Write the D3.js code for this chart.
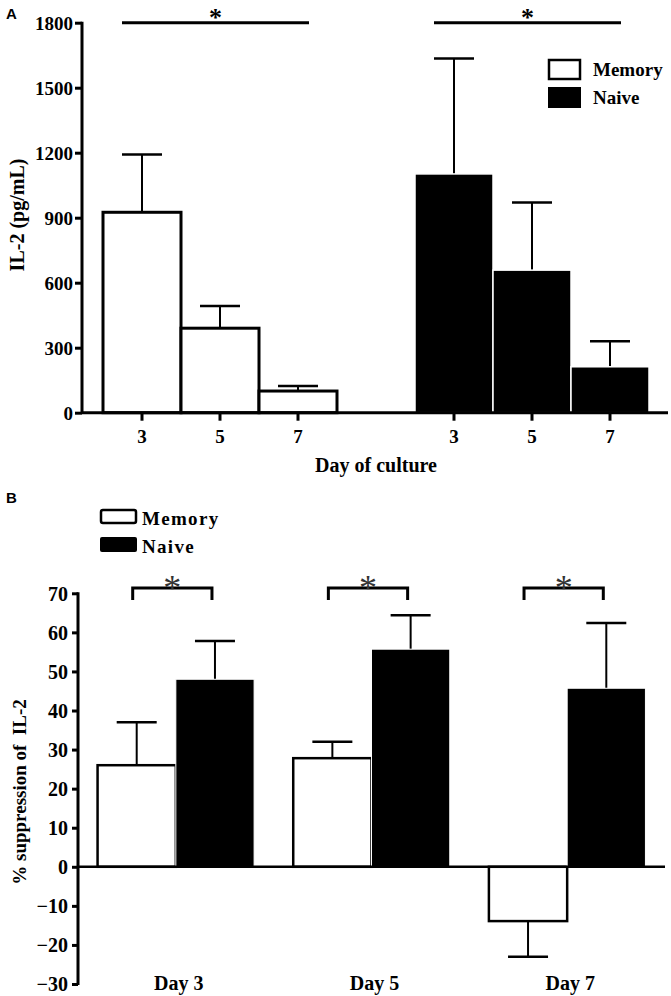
<!DOCTYPE html>
<html><head><meta charset="utf-8">
<script src="https://cdn.jsdelivr.net/npm/d3@7"></script>
<style>body{margin:0;background:#fff}svg{display:block}</style>
</head><body>
<script>
// ---- Panel A data ----
const daysA = ["3", "5", "7"];
const memoryA = [925, 390, 100];
const memoryAErr = [1192, 493, 123];
const naiveA = [1102, 658, 212];
const naiveAErr = [1635, 970, 330];
const ticksA = [0, 300, 600, 900, 1200, 1500, 1800];

// ---- Panel B data ----
const daysB = ["Day 3", "Day 5", "Day 7"];
const memoryB = [26, 27.8, -13.9];
const memoryBErr = [37, 32, -23];
const naiveB = [48, 55.7, 45.7];
const naiveBErr = [57.8, 64.4, 62.4];
const ticksB = [-30, -20, -10, 0, 10, 20, 30, 40, 50, 60, 70];
const seriesNames = ["Memory", "Naive"];

const W = 671, H = 996;
const svg = d3.select("body").append("svg").attr("width", W).attr("height", H);
const serif = "'Liberation Serif','Times New Roman',serif";
const sans = "'Liberation Sans',Arial,sans-serif";

// ================= Panel A =================
const gA = svg.append("g");
const slotsA = ["m3","m5","m7","gap","n3","n5","n7"];
const xA = d3.scaleBand().domain(slotsA).range([103, 649]).padding(0);
const yA = d3.scaleLinear().domain([0, 1800]).range([412.7, 22.7]);

const barsA = [];
daysA.forEach((d,i)=>barsA.push({slot:"m"+d, v:memoryA[i], e:memoryAErr[i], fill:"#fff"}));
daysA.forEach((d,i)=>barsA.push({slot:"n"+d, v:naiveA[i], e:naiveAErr[i], fill:"#000"}));

barsA.forEach(b=>{
  const cx = xA(b.slot) + xA.bandwidth()/2;
  gA.append("line").attr("x1",cx).attr("x2",cx).attr("y1",yA(b.v)).attr("y2",yA(b.e))
    .attr("stroke","#000").attr("stroke-width",2);
  gA.append("line").attr("x1",cx-20).attr("x2",cx+20).attr("y1",yA(b.e)).attr("y2",yA(b.e))
    .attr("stroke","#000").attr("stroke-width",2.5);
});
barsA.forEach(b=>{
  gA.append("rect").attr("x",xA(b.slot)).attr("width",xA.bandwidth())
    .attr("y",yA(b.v)).attr("height",yA(0)-yA(b.v))
    .attr("fill",b.fill).attr("stroke", b.fill==="#000" ? "#fff" : "#000")
    .attr("stroke-width", b.fill==="#000" ? 1.5 : 3);
});

const yAxisA = gA.append("g").attr("transform","translate(82,0)")
  .call(d3.axisLeft(yA).tickValues(ticksA).tickSize(7).tickPadding(2).tickFormat(d3.format("d")));
yAxisA.select(".domain").attr("stroke-width",3).attr("d",`M0,${yA(1800)-1}V${yA(0)}`);
yAxisA.selectAll(".tick line").attr("stroke-width",3);
yAxisA.selectAll("text").attr("font-family",serif).attr("font-weight","bold").attr("font-size",19).attr("fill","#000").attr("dy","0.34em");

gA.append("line").attr("x1",82).attr("x2",668).attr("y1",yA(0)).attr("y2",yA(0)).attr("stroke","#000").attr("stroke-width",3);
const tickSlots = daysA.map(d=>"m"+d).concat(daysA.map(d=>"n"+d));
tickSlots.forEach(s=>{
  const cx = xA(s)+xA.bandwidth()/2;
  gA.append("line").attr("x1",cx).attr("x2",cx).attr("y1",yA(0)).attr("y2",yA(0)+8).attr("stroke","#000").attr("stroke-width",3);
  gA.append("text").attr("x",cx).attr("y",yA(0)+30).attr("text-anchor","middle")
    .attr("font-family",serif).attr("font-weight","bold").attr("font-size",19).text(s.slice(1));
});

gA.append("text").attr("x",376).attr("y",472).attr("text-anchor","middle")
  .attr("font-family",serif).attr("font-weight","bold").attr("font-size",20).text("Day of culture");
gA.append("text").attr("transform",`translate(24,215) rotate(-90)`).attr("text-anchor","middle")
  .attr("font-family",serif).attr("font-weight","bold").attr("font-size",20).text("IL-2 (pg/mL)");
gA.append("text").attr("x",6).attr("y",19).attr("font-family",sans).attr("font-weight","bold").attr("font-size",15).text("A");

[["m3","m7"],["n3","n7"]].forEach(([a,b])=>{
  const x1 = xA(a)+xA.bandwidth()/2-20, x2 = xA(b)+xA.bandwidth()/2+11;
  gA.append("line").attr("x1",x1).attr("x2",x2).attr("y1",yA(1800)).attr("y2",yA(1800)).attr("stroke","#000").attr("stroke-width",3);
  gA.append("text").attr("x",(x1+x2)/2).attr("y",yA(1800)+3).attr("text-anchor","middle")
    .attr("font-family",serif).attr("font-weight","bold").attr("font-size",26).text("*");
});

const legA = gA.append("g");
legA.append("rect").attr("x",549).attr("y",60).attr("width",31).attr("height",19).attr("fill","#fff").attr("stroke","#000").attr("stroke-width",2.5);
legA.append("rect").attr("x",548).attr("y",87).attr("width",33).attr("height",21).attr("fill","#000");
legA.append("text").attr("x",593).attr("y",76).attr("font-family",serif).attr("font-weight","bold").attr("font-size",19).text(seriesNames[0]);
legA.append("text").attr("x",593).attr("y",104).attr("font-family",serif).attr("font-weight","bold").attr("font-size",19).text(seriesNames[1]);

// ================= Panel B =================
const gB = svg.append("g");
const xB = d3.scaleBand().domain(daysB).range([78, 665]).paddingInner(0.2).paddingOuter(0.1);
const xSub = d3.scaleBand().domain(seriesNames).range([0, xB.bandwidth()]).padding(0);
const yB = d3.scaleLinear().domain([-30, 70]).range([984, 593.3]);

const barsB = [];
daysB.forEach((d,i)=>{
  barsB.push({day:d, s:"Memory", v:memoryB[i], e:memoryBErr[i], fill:"#fff"});
  barsB.push({day:d, s:"Naive", v:naiveB[i], e:naiveBErr[i], fill:"#000"});
});
barsB.forEach(b=>{
  const cx = xB(b.day)+xSub(b.s)+xSub.bandwidth()/2;
  gB.append("line").attr("x1",cx).attr("x2",cx).attr("y1",yB(b.v)).attr("y2",yB(b.e)).attr("stroke","#000").attr("stroke-width",2);
  gB.append("line").attr("x1",cx-20).attr("x2",cx+20).attr("y1",yB(b.e)).attr("y2",yB(b.e)).attr("stroke","#000").attr("stroke-width",2.5);
});
barsB.forEach(b=>{
  const x = xB(b.day)+xSub(b.s);
  gB.append("rect").attr("x",x).attr("width",xSub.bandwidth())
    .attr("y",Math.min(yB(b.v),yB(0))).attr("height",Math.abs(yB(0)-yB(b.v)))
    .attr("fill",b.fill).attr("stroke", b.fill==="#000" ? "#fff" : "#000")
    .attr("stroke-width", b.fill==="#000" ? 1 : 2.5);
});

const yAxisB = gB.append("g").attr("transform","translate(78,0)")
  .call(d3.axisLeft(yB).tickValues(ticksB).tickSize(6).tickPadding(4).tickFormat(d3.format("d")));
yAxisB.select(".domain").attr("stroke-width",3).attr("d",`M0,${yB(70)-1}V${yB(-30)+1}`);
yAxisB.selectAll(".tick line").attr("stroke-width",3);
yAxisB.selectAll("text").attr("font-family",serif).attr("font-weight","bold").attr("font-size",20).attr("fill","#000").attr("dy","0.34em");

gB.append("line").attr("x1",78).attr("x2",665).attr("y1",yB(0)).attr("y2",yB(0)).attr("stroke","#000").attr("stroke-width",2.5);

daysB.forEach(d=>{
  gB.append("text").attr("x",xB(d)+xB.bandwidth()/2+3).attr("y",990).attr("text-anchor","middle")
    .attr("font-family",serif).attr("font-weight","bold").attr("font-size",20).text(d);
  const x1 = xB(d)+xSub("Memory")+xSub.bandwidth()/2-4;
  const x2 = xB(d)+xSub("Naive")+xSub.bandwidth()/2-3;
  const yt = 588;
  gB.append("path").attr("d",`M${x1},${yt+12}V${yt}H${x2}V${yt+12}`).attr("fill","none").attr("stroke","#000").attr("stroke-width",3);
  gB.append("text").attr("x",(x1+x2)/2).attr("y",yt+12).attr("text-anchor","middle")
    .attr("font-family",serif).attr("font-size",36).attr("fill","#333").text("*");
});

gB.append("text").attr("transform",`translate(26,792) rotate(-90)`).attr("text-anchor","middle")
  .attr("font-family",serif).attr("font-weight","bold").attr("font-size",19).attr("xml:space","preserve").text("% suppression of  IL-2");
gB.append("text").attr("x",6).attr("y",503).attr("font-family",sans).attr("font-weight","bold").attr("font-size",15).text("B");

const legB = gB.append("g");
legB.append("rect").attr("x",101).attr("y",510).attr("width",35).attr("height",13).attr("rx",2).attr("fill","#fff").attr("stroke","#000").attr("stroke-width",2.5);
legB.append("rect").attr("x",100).attr("y",537).attr("width",37).attr("height",15).attr("rx",2).attr("fill","#000");
legB.append("text").attr("x",142).attr("y",525).attr("font-family",serif).attr("font-weight","bold").attr("font-size",19).attr("letter-spacing",1.3).text(seriesNames[0]);
legB.append("text").attr("x",142).attr("y",553).attr("font-family",serif).attr("font-weight","bold").attr("font-size",19).attr("letter-spacing",1.3).text(seriesNames[1]);
</script>
</body></html>
